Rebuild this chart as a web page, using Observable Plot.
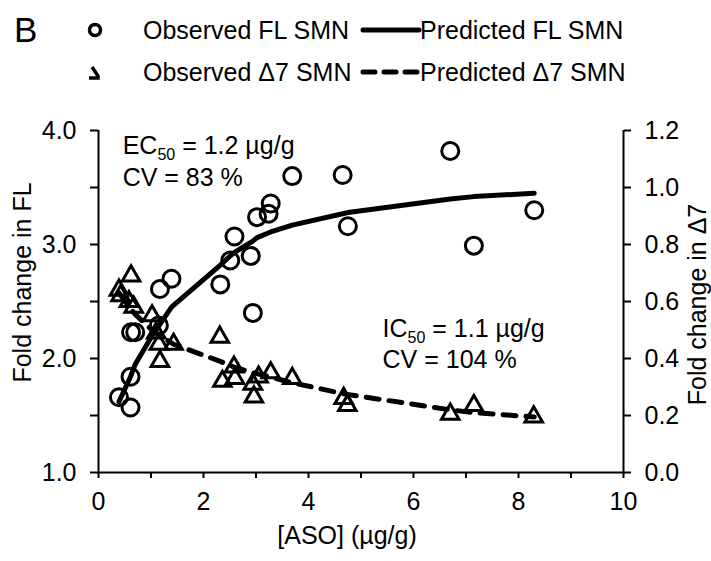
<!DOCTYPE html>
<html><head><meta charset="utf-8">
<script src="https://cdn.jsdelivr.net/npm/d3@7"></script>
<script src="https://cdn.jsdelivr.net/npm/@observablehq/plot@0.6"></script>
<style>
body{margin:0;background:#fff;font-family:Arial,"Liberation Sans",sans-serif;color:#000;}
#wrap{position:relative;width:711px;height:561px;overflow:hidden;}
#legend{position:relative;width:711px;height:90px;}
#legend .t{position:absolute;font-size:25px;line-height:30px;white-space:nowrap;}
#legend .B{position:absolute;font-size:35px;line-height:40px;left:14px;top:10px;}
#legend svg{position:absolute;}
#chart svg{display:block;}
</style></head><body>
<div id="wrap"><div id="legend"></div><div id="chart"></div></div>
<script>
// Observed full-length (FL) SMN
const flDose = [0.39, 0.61, 0.61, 0.62, 0.70, 1.15, 1.17, 1.39, 2.32, 2.51, 2.59, 2.90, 2.94, 3.02, 3.24, 3.28, 3.69, 4.65, 4.75, 6.70, 7.15, 8.30];
const flObs  = [1.66, 1.57, 1.84, 2.23, 2.23, 2.29, 2.61, 2.70, 2.65, 2.86, 3.07, 2.90, 2.40, 3.24, 3.27, 3.36, 3.60, 3.61, 3.16, 3.82, 2.99, 3.30];
// Observed Δ7 SMN
const d7Dose = [0.39, 0.42, 0.58, 0.62, 0.67, 1.02, 1.10, 1.15, 1.17, 1.43, 2.31, 2.36, 2.58, 2.60, 2.94, 2.96, 3.05, 3.28, 3.69, 4.67, 4.74, 6.70, 7.15, 8.29];
const d7Obs  = [0.64, 0.62, 0.60, 0.69, 0.58, 0.55, 0.49, 0.45, 0.39, 0.45, 0.475, 0.32, 0.37, 0.33, 0.31, 0.265, 0.335, 0.35, 0.33, 0.26, 0.235, 0.205, 0.235, 0.195];
// Predicted curves
const predFlDose = [0.39, 0.61, 0.70, 1.02, 1.17, 1.39, 2.32, 2.51, 2.59, 2.94, 3.02, 3.28, 3.69, 4.65, 4.75, 6.70, 7.15, 8.30];
const predFl     = [1.62, 1.84, 1.95, 2.20, 2.30, 2.45, 2.82, 2.90, 2.93, 3.03, 3.06, 3.11, 3.17, 3.27, 3.28, 3.40, 3.42, 3.45];
const predD7Dose = [0.39, 0.61, 0.70, 1.02, 1.17, 1.43, 2.32, 2.58, 2.94, 3.28, 3.69, 4.70, 6.70, 7.15, 8.30];
const predD7     = [0.63, 0.575, 0.555, 0.50, 0.48, 0.45, 0.39, 0.37, 0.35, 0.335, 0.315, 0.275, 0.22, 0.21, 0.195];
// Axes
const xTicks = [0, 1, 2, 3, 4, 5, 6, 7, 8, 9, 10];
const leftTicks = [1, 1.5, 2, 2.5, 3, 3.5, 4];
const rightTicks = [0, 0.2, 0.4, 0.6, 0.8, 1.0, 1.2];
const xTitle = "[ASO] (µg/g)";
const leftTitle = "Fold change in FL";
const rightTitle = "Fold change in Δ7";
// Annotations
const annText = ["EC50 = 1.2 µg/g", "CV = 83 %", "IC50 = 1.1 µg/g", "CV = 104 %"];
const annX = [0.46, 0.46, 5.41, 5.41];
const annY = [3.86, 3.585, 2.26, 1.99];
// Legend
const legendLabels = ["Observed FL SMN", "Predicted FL SMN", "Observed Δ7 SMN", "Predicted Δ7 SMN"];

// right axis (Δ7, 0–1.2) mapped onto left scale (FL, 1–4)
const toY = d => 1 + d * 2.5;
const fromY = v => (v - 1) / 2.5;

const flPts = flDose.map((x, i) => ({x, y: flObs[i]}));
const d7Pts = d7Dose.map((x, i) => ({x, y: toY(d7Obs[i])}));
const flLine = predFlDose.map((x, i) => ({x, y: predFl[i]}));
const d7Line = predD7Dose.map((x, i) => ({x, y: toY(predD7[i])}));
const ann = annText.map((t, i) => ({t, x: annX[i], y: annY[i]}));

const FS = 25;
const chart = Plot.plot({
  width: 711, height: 471,
  marginLeft: 98, marginRight: 88, marginTop: 40, marginBottom: 89,
  style: {fontFamily: "Arial, 'Liberation Sans', sans-serif", fontSize: FS + "px", background: "#fff", color: "#000"},
  x: {domain: [0, 10]},
  y: {domain: [1, 4]},
  marks: [
    Plot.ruleY([1], {stroke: "#000", strokeWidth: 2}),
    Plot.ruleX([0, 10], {stroke: "#000", strokeWidth: 2}),
    Plot.axisX({ticks: xTicks, tickFormat: d => d % 2 === 0 ? String(d) : "", tickSize: 6, tickPadding: 14, strokeWidth: 2, fontSize: FS, label: null}),
    Plot.axisY({anchor: "left", ticks: leftTicks, tickFormat: d => Number.isInteger(d) ? d.toFixed(1) : "", tickSize: 8, tickPadding: 14, strokeWidth: 2, fontSize: FS, label: null}),
    Plot.axisY(rightTicks.map(toY), {anchor: "right", tickFormat: v => fromY(v).toFixed(1), tickSize: 7, tickPadding: 14, strokeWidth: 2, fontSize: FS, label: null}),
    Plot.text([xTitle], {frameAnchor: "bottom", dx: -14, dy: 63, fontSize: FS, textAnchor: "middle", lineAnchor: "middle"}),
    Plot.text([leftTitle], {frameAnchor: "left", dx: -76, dy: -19, rotate: -90, fontSize: FS, textAnchor: "middle", lineAnchor: "middle"}),
    Plot.text([rightTitle], {frameAnchor: "right", dx: 74, dy: 3, rotate: -90, fontSize: FS, textAnchor: "middle", lineAnchor: "middle"}),
    Plot.line(flLine, {x: "x", y: "y", stroke: "#000", strokeWidth: 5, strokeLinejoin: "round"}),
    Plot.line(d7Line, {x: "x", y: "y", stroke: "#000", strokeWidth: 5, strokeDasharray: "13,10", strokeLinecap: "round", strokeLinejoin: "round"}),
    Plot.dot(flPts, {x: "x", y: "y", r: 8.5, stroke: "#000", strokeWidth: 3, fill: "none"}),
    Plot.dot(d7Pts, {x: "x", y: "y", r: 6.5, symbol: "triangle", stroke: "#000", strokeWidth: 3, fill: "none"}),
    Plot.text(ann, {x: "x", y: "y", text: "t", textAnchor: "start", lineAnchor: "middle", fontSize: FS})
  ]
});
document.getElementById("chart").appendChild(chart);

// subscripts for EC50 / IC50
d3.select(chart).selectAll("text").each(function() {
  const s = this.textContent;
  const m = /^(EC|IC)50( = .*)$/.exec(s);
  if (!m) return;
  const el = d3.select(this);
  el.selectAll("*").remove();
  el.text(null);
  el.append("tspan").text(m[1]);
  el.append("tspan").attr("font-size", 16).attr("dy", 6).text("50");
  el.append("tspan").attr("dy", -6).text(m[2]);
});

// legend
const lg = document.getElementById("legend");
const add = (html) => lg.insertAdjacentHTML("beforeend", html);
add(`<div class="B">B</div>`);
const row1 = 30, row2 = 72;
add(`<svg style="left:86px;top:${row1-9}px" width="18" height="18"><circle cx="9" cy="9" r="5.5" fill="none" stroke="#000" stroke-width="3.5"/></svg>`);
add(`<div class="t" style="left:143px;top:${row1-15}px">${legendLabels[0]}</div>`);
add(`<svg style="left:360px;top:${row1-5}px" width="62" height="10"><line x1="3" y1="5" x2="59" y2="5" stroke="#000" stroke-width="5" stroke-linecap="round"/></svg>`);
add(`<div class="t" style="left:420px;top:${row1-15}px">${legendLabels[1]}</div>`);
add(`<svg style="left:87px;top:${row2-8}px" width="16" height="18"><path d="M5,3 L11,12 L11,14 L2,14" fill="none" stroke="#000" stroke-width="3.5" stroke-linejoin="miter"/></svg>`);
add(`<div class="t" style="left:143px;top:${row2-15}px">${legendLabels[2]}</div>`);
add(`<svg style="left:360px;top:${row2-5}px" width="62" height="10"><line x1="3" y1="5" x2="59" y2="5" stroke="#000" stroke-width="5" stroke-linecap="round" stroke-dasharray="12,9"/></svg>`);
add(`<div class="t" style="left:420px;top:${row2-15}px">${legendLabels[3]}</div>`);
</script>
</body></html>
